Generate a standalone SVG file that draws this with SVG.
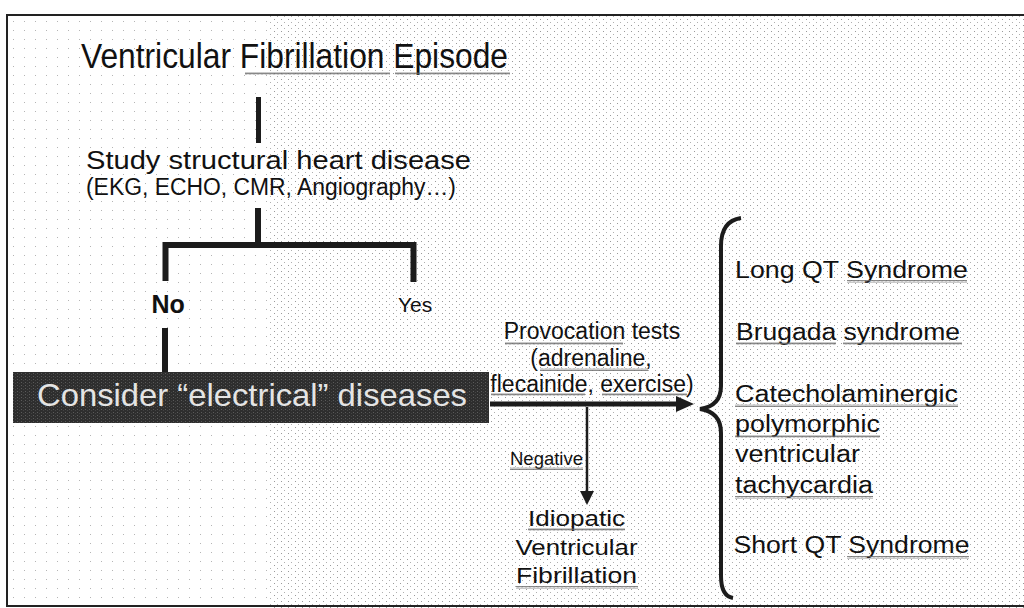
<svg xmlns="http://www.w3.org/2000/svg" width="1024" height="608" viewBox="0 0 1024 608">
<defs>
<pattern id="dots" width="7" height="6" patternUnits="userSpaceOnUse">
<rect x="1" y="1" width="1" height="1" fill="#9a9a9a"/>
<rect x="4" y="4" width="1" height="1" fill="#b0b0b0"/>
</pattern>
<pattern id="dots2" width="11" height="9" patternUnits="userSpaceOnUse">
<rect x="2" y="3" width="1" height="1" fill="#b5b5b5"/>
</pattern>
<pattern id="boxnoise" width="4" height="3" patternUnits="userSpaceOnUse">
<rect width="4" height="3" fill="#2e2e2e"/>
<rect x="1" y="1" width="1" height="1" fill="#5a5a5a"/>
<rect x="3" y="2" width="1" height="1" fill="#444"/>
</pattern>
<pattern id="squig" width="4" height="3" patternUnits="userSpaceOnUse">
<path d="M0,2.5 L1,0.5 L2,2.5 L3,0.5 L4,2.5" fill="none" stroke="#6a6a6a" stroke-width="0.8"/>
</pattern>
</defs>
<style>
text{font-family:"Liberation Sans",Arial,sans-serif;fill:#111}
.ln{stroke:#1c1c1c;fill:none}
.sq{fill:url(#squig)}
</style>
<rect width="1024" height="608" fill="#fff"/>
<rect x="270" y="15" width="754" height="593" fill="url(#dots)"/>
<rect x="8" y="15" width="262" height="593" fill="url(#dots2)"/>
<rect x="7" y="15" width="1030" height="591" fill="none" stroke="#222" stroke-width="2"/>

<g id="connectors">
<line class="ln" x1="258.5" y1="97" x2="258.5" y2="143" stroke-width="5"/>
<line class="ln" x1="258" y1="208" x2="258" y2="245" stroke-width="6"/>
<path class="ln" d="M165.5,281 V245 H413.5 V282" stroke-width="6"/>
<line class="ln" x1="165" y1="328" x2="165" y2="372" stroke-width="6"/>
<line class="ln" x1="490" y1="404" x2="678" y2="404" stroke-width="5"/>
<polygon points="676,396 694,404 676,412" fill="#1c1c1c"/>
<line class="ln" x1="587" y1="407" x2="587" y2="493" stroke-width="2.5"/>
<polygon points="580,491 594,491 587,505" fill="#1c1c1c"/>
<path class="ln" d="M741,218 Q721,221 721,246 L721,386 Q721,406 700,409 Q721,412 721,433 L721,576 Q721,596 733,598" stroke-width="4"/>
</g>

<g id="title">
<text x="81" y="68" font-size="35" textLength="427" lengthAdjust="spacingAndGlyphs">Ventricular Fibrillation Episode</text>
<rect class="sq" x="245" y="72" width="145" height="3"/>
<rect class="sq" x="395" y="72" width="115" height="3"/>
</g>

<g id="study">
<text x="86" y="169" font-size="25" textLength="385" lengthAdjust="spacingAndGlyphs">Study structural heart disease</text>
<text x="86" y="195" font-size="23" textLength="370" lengthAdjust="spacingAndGlyphs">(EKG, ECHO, CMR, Angiography…)</text>
</g>

<g id="no"><text x="151.5" y="313" font-size="25" font-weight="bold">No</text></g>
<g id="yes"><text x="398" y="311.5" font-size="21">Yes</text></g>

<g id="electrical">
<rect x="13" y="372" width="476" height="51" fill="url(#boxnoise)"/>
<text x="37" y="406" font-size="32" textLength="430" lengthAdjust="spacingAndGlyphs" style="fill:#e4e4e4">Consider “electrical” diseases</text>
</g>

<g id="provocation">
<text x="592" y="339" font-size="23" text-anchor="middle">Provocation tests</text>
<text x="591" y="365.5" font-size="23" text-anchor="middle">(adrenaline,</text>
<text x="592" y="391.5" font-size="23" text-anchor="middle">flecainide, exercise)</text>
<rect class="sq" x="505" y="342" width="118" height="3"/>
<rect class="sq" x="540" y="368" width="108" height="3"/>
<rect class="sq" x="491" y="393" width="94" height="3"/>
<rect class="sq" x="602" y="393" width="85" height="3"/>
</g>

<g id="negative">
<text x="510" y="465" font-size="18.5" textLength="73" lengthAdjust="spacingAndGlyphs">Negative</text>
<rect class="sq" x="510" y="467" width="73" height="3"/>
</g>

<g id="idiopathic">
<text x="576.5" y="526" font-size="22" text-anchor="middle" textLength="97" lengthAdjust="spacingAndGlyphs">Idiopatic</text>
<text x="576.5" y="555" font-size="22" text-anchor="middle" textLength="122" lengthAdjust="spacingAndGlyphs">Ventricular</text>
<text x="576.5" y="583" font-size="22" text-anchor="middle" textLength="121" lengthAdjust="spacingAndGlyphs">Fibrillation</text>
<rect class="sq" x="528" y="528" width="97" height="3"/>
<rect class="sq" x="516" y="586" width="122" height="3"/>
</g>

<g id="diseases">
<text x="735" y="277.5" font-size="23" textLength="233" lengthAdjust="spacingAndGlyphs">Long QT Syndrome</text>
<rect class="sq" x="847" y="280" width="120" height="3"/>
<text x="736" y="339.5" font-size="23" textLength="224" lengthAdjust="spacingAndGlyphs">Brugada syndrome</text>
<rect class="sq" x="736" y="342" width="100" height="3"/>
<rect class="sq" x="843" y="342" width="119" height="3"/>
<text x="735" y="401.5" font-size="23" textLength="223" lengthAdjust="spacingAndGlyphs">Catecholaminergic</text>
<rect class="sq" x="735" y="404" width="223" height="3"/>
<text x="735" y="431.5" font-size="23" textLength="145" lengthAdjust="spacingAndGlyphs">polymorphic</text>
<rect class="sq" x="735" y="435" width="145" height="3"/>
<text x="735" y="461.5" font-size="23" textLength="125" lengthAdjust="spacingAndGlyphs">ventricular</text>
<text x="735" y="493" font-size="23" textLength="138" lengthAdjust="spacingAndGlyphs">tachycardia</text>
<rect class="sq" x="735" y="496" width="138" height="3"/>
<text x="733.5" y="553" font-size="23" textLength="236" lengthAdjust="spacingAndGlyphs">Short QT Syndrome</text>
<rect class="sq" x="847" y="556" width="122" height="3"/>
</g>
</svg>
